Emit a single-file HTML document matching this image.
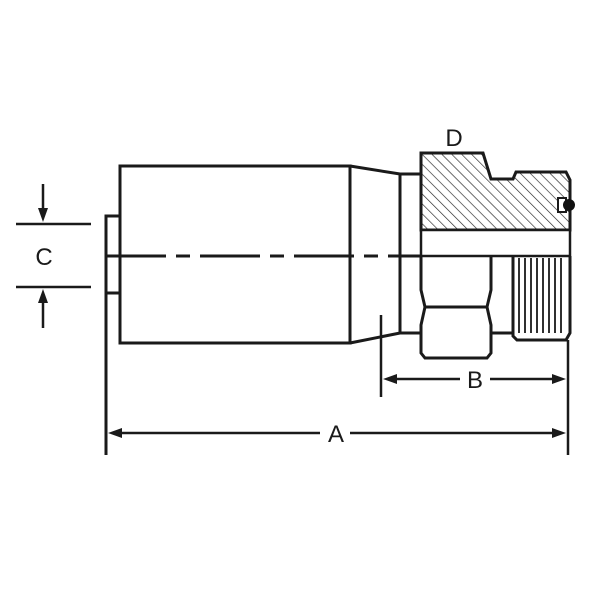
<!DOCTYPE html>
<html><head><style>body{margin:0;background:#fff}svg{display:block}</style></head><body>
<svg width="600" height="600" viewBox="0 0 600 600" xmlns="http://www.w3.org/2000/svg">
<defs>
<pattern id="h" width="7" height="7" patternUnits="userSpaceOnUse" patternTransform="rotate(-45)">
<line x1="0" y1="0" x2="0" y2="7" stroke="#222" stroke-width="1.3"/>
</pattern>
</defs>
<g fill="none" stroke="#1a1a1a" stroke-width="3">
<rect x="120" y="166" width="230" height="177"/>
<polyline points="350,166 400,174 421,174"/>
<polyline points="350,343 400,333 421,333"/>
<line x1="400" y1="174" x2="400" y2="333"/>
<polyline points="120,216 106,216 106,455"/>
<line x1="106" y1="293" x2="120" y2="293"/>
</g>
<line x1="106" y1="256" x2="400" y2="256" stroke="#1a1a1a" stroke-width="3" stroke-dasharray="60,10,14,10"/>
<line x1="400" y1="256" x2="421" y2="256" stroke="#1a1a1a" stroke-width="3"/>
<path d="M421,153 L483,153 L491,179 L513,179 L516,172 L566,172 L570,180 L570,230 L421,230 Z" fill="url(#h)" stroke="#1a1a1a" stroke-width="3"/>
<rect x="421" y="230" width="149" height="26" fill="#fff" stroke="#1a1a1a" stroke-width="2.5"/>
<rect x="558" y="198" width="8" height="14" fill="#fff" stroke="#1a1a1a" stroke-width="2"/>
<circle cx="569" cy="205" r="6" fill="#111"/>
<g fill="none" stroke="#1a1a1a" stroke-width="3">
<path d="M421,256 L421,290 L425,307 L421,325 L421,353 L425,358 L487,358 L491,353 L491,325 L487,307 L491,290 L491,256"/>
<line x1="425" y1="307" x2="487" y2="307"/>
<line x1="491" y1="333" x2="513" y2="333"/>
<path d="M513,256 L513,336 L517,340 L566,340 L570,333 L570,256"/>
</g>
<g stroke="#1a1a1a" stroke-width="1.8">
<line x1="519" y1="258" x2="519" y2="333"/><line x1="525" y1="258" x2="525" y2="333"/>
<line x1="531" y1="258" x2="531" y2="333"/><line x1="537" y1="258" x2="537" y2="333"/>
<line x1="543" y1="258" x2="543" y2="333"/><line x1="549" y1="258" x2="549" y2="333"/>
<line x1="555" y1="258" x2="555" y2="333"/><line x1="561" y1="258" x2="561" y2="333"/>
</g>
<g stroke="#1a1a1a" stroke-width="2.5" fill="none">
<line x1="16" y1="224" x2="91" y2="224"/><line x1="16" y1="287" x2="91" y2="287"/>
<line x1="43" y1="184" x2="43" y2="215"/><line x1="43" y1="296" x2="43" y2="328"/>
<line x1="381" y1="315" x2="381" y2="397"/><line x1="568" y1="340" x2="568" y2="455"/>
<line x1="390" y1="379" x2="460" y2="379"/><line x1="490" y1="379" x2="560" y2="379"/>
<line x1="115" y1="433" x2="320" y2="433"/><line x1="350" y1="433" x2="560" y2="433"/>
</g>
<g fill="#1a1a1a">
<polygon points="43,222 38,208 48,208"/><polygon points="43,289 38,303 48,303"/>
<polygon points="383,379 397,374 397,384"/><polygon points="566,379 552,374 552,384"/>
<polygon points="108,433 122,428 122,438"/><polygon points="566,433 552,428 552,438"/>
</g>
<g font-family="Liberation Sans, sans-serif" font-size="24" fill="#1a1a1a" text-anchor="middle">
<text x="44" y="265">C</text>
<text x="454" y="146">D</text>
<text x="475" y="388">B</text>
<text x="336" y="442">A</text>
</g>
</svg>
</body></html>
